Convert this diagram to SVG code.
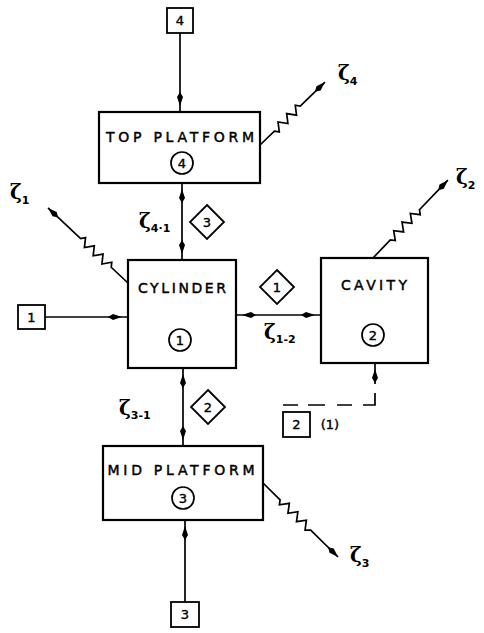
<svg xmlns="http://www.w3.org/2000/svg" width="484" height="633" viewBox="0 0 484 633">
<style>
.box{fill:#fff;stroke:#000;stroke-width:2.2}
.sbox{fill:#fff;stroke:#000;stroke-width:1.8}
.dia{fill:#fff;stroke:#000;stroke-width:1.8}
.lbl{font-family:"DejaVu Sans","Liberation Sans",sans-serif;font-size:14px;text-anchor:middle;fill:#000;stroke:#000;stroke-width:0.45}
.num{font-family:"DejaVu Sans","Liberation Sans",sans-serif;font-size:13px;text-anchor:middle;fill:#000;stroke:#000;stroke-width:0.4}
.circ{fill:none;stroke:#000;stroke-width:1.7}
.con{fill:none;stroke:#000;stroke-width:1.7}
.sym{font-family:"DejaVu Serif","Liberation Serif",serif;font-size:20px;fill:#000;font-weight:bold}
.sub{font-size:11px;font-family:"DejaVu Sans","Liberation Sans",sans-serif;font-weight:bold}
</style>
<defs>
<marker id="ah" markerUnits="userSpaceOnUse" markerWidth="16" markerHeight="8" viewBox="0 0 16 8" refX="16" refY="4" orient="auto-start-reverse">
<path d="M16,4 L7,1 L2,4 L7,7 Z" fill="#000"/>
</marker>
<marker id="ahb" markerUnits="userSpaceOnUse" markerWidth="22" markerHeight="8" viewBox="0 0 22 8" refX="22" refY="4" orient="auto-start-reverse">
<path d="M16,4 L7,1 L2,4 L7,7 Z" fill="#000"/>
</marker>
</defs>

<g id="connectors">
<path class="con" d="M180,33 V112" marker-end="url(#ahb)"/>
<path class="con" d="M182,183 V260" marker-start="url(#ahb)" marker-end="url(#ahb)"/>
<path class="con" d="M45,317 H128" marker-end="url(#ahb)"/>
<path class="con" d="M236,315 H321" marker-start="url(#ahb)" marker-end="url(#ahb)"/>
<path class="con" d="M183,368 V446" marker-start="url(#ahb)" marker-end="url(#ahb)"/>
<path class="con" d="M185,602 V520" marker-end="url(#ahb)"/>
<path class="con" stroke-width="1.5" d="M283,405 H298 M308,405 H325 M337,405 H352 M363,405 H375 V393"/>
<path class="con" d="M375,384 V363" marker-end="url(#ahb)"/>
<g transform="translate(260,145) rotate(-44.1)">
<path class="con" d="M0,0 L20,0 L23,4 L29,-4 L35,4 L41,-4 L47,4 L53,-4 L56,0 L90.5,0" marker-end="url(#ah)"/>
</g>
<g transform="translate(128,283) rotate(-136.8)">
<path class="con" d="M0,0 L23,0 L26,4 L32,-4 L38,4 L44,-4 L50,4 L56,-4 L62,4 L65,0 L109.7,0" marker-end="url(#ah)"/>
</g>
<g transform="translate(373,258) rotate(-46.1)">
<path class="con" d="M0,0 L25,0 L28,4 L34,-4 L40,4 L46,-4 L52,4 L58,-4 L64,4 L67,0 L108,0" marker-end="url(#ah)"/>
</g>
<g transform="translate(263,483) rotate(44.6)">
<path class="con" d="M0,0 L24,0 L27,4 L33,-4 L39,4 L45,-4 L51,4 L57,-4 L63,4 L67,0 L105.4,0" marker-end="url(#ah)"/>
</g>
</g>

<g id="top-platform">
<rect class="box" x="99" y="112" width="161" height="71"/>
<text class="lbl" x="180" y="142" textLength="148" lengthAdjust="spacing">TOP PLATFORM</text>
<circle class="circ" cx="182" cy="163" r="11"/>
<text class="num" x="182" y="167.5">4</text>
</g>

<g id="cylinder">
<rect class="box" x="128" y="260" width="108" height="108"/>
<text class="lbl" x="182" y="293" textLength="88" lengthAdjust="spacing">CYLINDER</text>
<circle class="circ" cx="180" cy="340" r="11"/>
<text class="num" x="180" y="344.5">1</text>
</g>

<g id="cavity">
<rect class="box" x="321" y="258" width="107" height="105"/>
<text class="lbl" x="374" y="290" textLength="66" lengthAdjust="spacing">CAVITY</text>
<circle class="circ" cx="373" cy="335" r="11"/>
<text class="num" x="373" y="339.5">2</text>
</g>

<g id="mid-platform">
<rect class="box" x="103" y="446" width="160" height="74"/>
<text class="lbl" x="181" y="475" textLength="147" lengthAdjust="spacing">MID PLATFORM</text>
<circle class="circ" cx="183" cy="498" r="11"/>
<text class="num" x="183" y="502.5">3</text>
</g>

<g id="boundary-4">
<rect class="sbox" x="167" y="8" width="26" height="25"/>
<text class="num" x="180" y="25">4</text>
</g>
<g id="boundary-1">
<rect class="sbox" x="18" y="305" width="27" height="24"/>
<text class="num" x="31.5" y="321.5">1</text>
</g>
<g id="boundary-2">
<rect class="sbox" x="283" y="412" width="27" height="25"/>
<text class="num" x="296.5" y="429">2</text>
<text class="num" x="330" y="429">(1)</text>
</g>
<g id="boundary-3">
<rect class="sbox" x="171" y="602" width="28" height="25"/>
<text class="num" x="185" y="619">3</text>
</g>

<g id="diamond-3">
<path class="dia" d="M207,205 L224,222 L207,239 L190,222 Z"/>
<text class="num" x="207" y="226.5">3</text>
</g>
<g id="diamond-1">
<path class="dia" d="M277,270 L294,287 L277,304 L260,287 Z"/>
<text class="num" x="277" y="291.5">1</text>
</g>
<g id="diamond-2">
<path class="dia" d="M208,390 L225,407 L208,424 L191,407 Z"/>
<text class="num" x="208" y="411.5">2</text>
</g>

<g id="labels">
<text class="sym" x="338" y="80">ζ<tspan class="sub" dy="5">4</tspan></text>
<text class="sym" x="10" y="199">ζ<tspan class="sub" dy="5">1</tspan></text>
<text class="sym" x="139" y="228">ζ<tspan class="sub" dy="4">4·1</tspan></text>
<text class="sym" x="264" y="339">ζ<tspan class="sub" dy="4">1-2</tspan></text>
<text class="sym" x="456" y="184">ζ<tspan class="sub" dy="5">2</tspan></text>
<text class="sym" x="119" y="415">ζ<tspan class="sub" dy="4">3-1</tspan></text>
<text class="sym" x="350" y="562">ζ<tspan class="sub" dy="5">3</tspan></text>
</g>
</svg>
